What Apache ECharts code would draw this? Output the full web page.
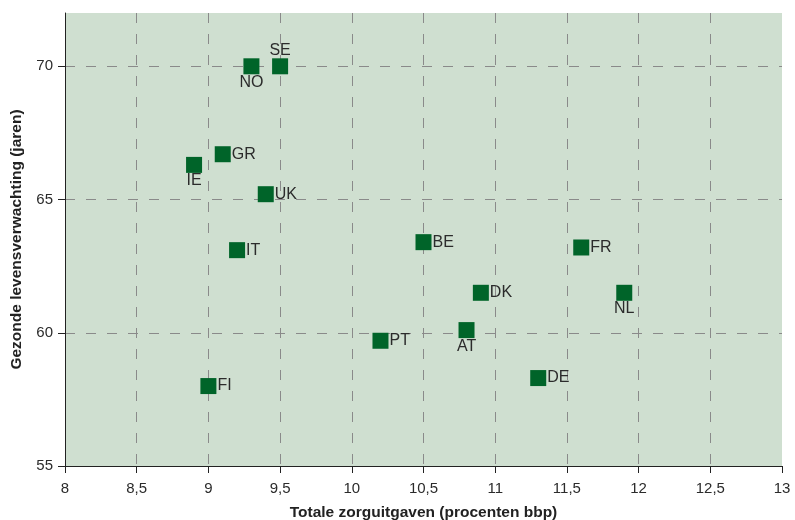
<!DOCTYPE html>
<html>
<head>
<meta charset="utf-8">
<script src="https://cdn.jsdelivr.net/npm/echarts@6/dist/echarts.min.js"></script>
<style>html,body{margin:0;padding:0;background:#fff}#c{width:795px;height:520px}</style>
</head>
<body>
<div id="c"></div>
<script>
const countries = ['NO','SE','GR','IE','UK','IT','FI','BE','FR','DK','NL','AT','PT','DE'];
const spending  = [9.3, 9.5, 9.1, 8.9, 9.4, 9.2, 9.0, 10.5, 11.6, 10.9, 11.9, 10.8, 10.2, 11.3];
const healthyLife = [70.0, 70.0, 66.7, 66.3, 65.2, 63.1, 58.0, 63.4, 63.2, 61.5, 61.5, 60.1, 59.7, 58.3];
const labelPos = ['bottom','top','right','bottom','right','right','right','right','right','right','bottom','bottom','right','right'];
const xTicks = [8, 8.5, 9, 9.5, 10, 10.5, 11, 11.5, 12, 12.5, 13];
const yTicks = [55, 60, 65, 70];

const chart = echarts.init(document.getElementById('c'));
const gridCol = '#8a8a8a';
const data = countries.map((c, i) => ({
  name: c,
  value: [spending[i], healthyLife[i]],
  label: { position: labelPos[i], distance: labelPos[i] === 'right' ? 1 : 0 }
}));
chart.setOption({
  animation: false,
  grid: { left: 65, right: 13, top: 13, bottom: 54, show: true, backgroundColor: '#cfdfd0', borderWidth: 0,
    containLabel: false, outerBoundsMode: 'none' },
  xAxis: {
    type: 'value', min: 8, max: 13, interval: 0.5,
    name: 'Totale zorguitgaven (procenten bbp)', nameLocation: 'middle', nameGap: 39,
    nameTextStyle: { fontFamily: 'Liberation Sans', fontWeight: 'bold', fontSize: 15.5, color: '#222' },
    axisLine: { show: true, lineStyle: { color: '#222', width: 1 } },
    axisTick: { show: true, length: 7, lineStyle: { color: '#222' } },
    axisLabel: { margin: 15, fontFamily: 'Liberation Sans', fontSize: 15, color: '#2b2b2b',
      formatter: v => String(v).replace('.', ',') },
    splitLine: { show: true, lineStyle: { color: xTicks.map((t, i) => i === xTicks.length - 1 || i === 0 ? 'rgba(0,0,0,0)' : gridCol), type: [10, 11], width: 1 } }
  },
  yAxis: {
    type: 'value', min: 55, max: 72, interval: 5,
    name: 'Gezonde levensverwachting (jaren)', nameLocation: 'middle', nameGap: 40,
    nameTextStyle: { fontFamily: 'Liberation Sans', fontWeight: 'bold', fontSize: 15.5, color: '#222' },
    axisLine: { show: true, lineStyle: { color: '#222', width: 1 } },
    axisTick: { show: true, length: 7, lineStyle: { color: '#222' } },
    axisLabel: { margin: 12, fontFamily: 'Liberation Sans', fontSize: 15, color: '#2b2b2b', showMaxLabel: false,
      formatter: v => yTicks.includes(v) ? String(v) : '' },
    splitLine: { show: true, lineStyle: { color: ['rgba(0,0,0,0)', gridCol, gridCol, gridCol, 'rgba(0,0,0,0)'], type: [10, 11], width: 1 } }
  },
  series: [{
    type: 'scatter',
    symbol: 'rect',
    symbolSize: 16,
    itemStyle: { color: '#006429', opacity: 1 },
    label: { show: true, formatter: p => p.name, fontFamily: 'Liberation Sans', fontSize: 16, color: '#2b2b2b' },
    data: data
  }]
});
</script>
</body>
</html>
